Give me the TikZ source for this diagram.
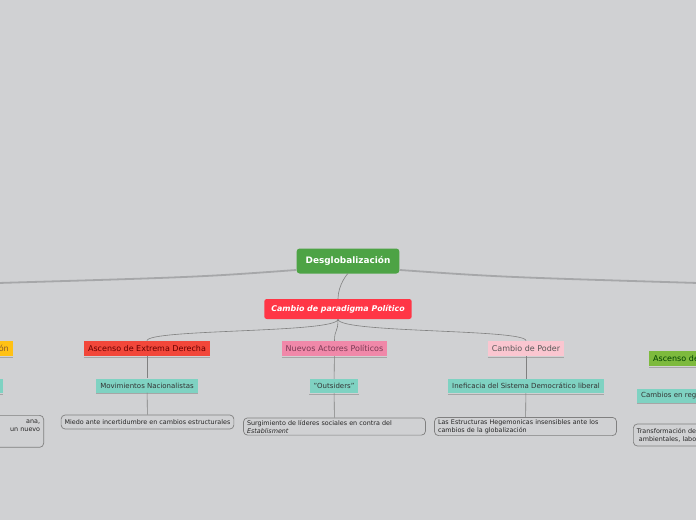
\documentclass[tikz,border=0pt]{standalone}
\usepackage{fontspec}
\setmainfont{DejaVu Sans}
\usetikzlibrary{calc}
\definecolor{fondo}{HTML}{D0D1D3}
\definecolor{verde}{HTML}{4DA345}
\definecolor{rojo}{HTML}{FF3646}
\definecolor{rojoB}{HTML}{F2473A}
\definecolor{rosa}{HTML}{F088A9}
\definecolor{rosaC}{HTML}{FAC6D0}
\definecolor{amarillo}{HTML}{FFC114}
\definecolor{verdeC}{HTML}{7DBA3D}
\definecolor{turquesa}{HTML}{7FD2C2}
\definecolor{linea}{HTML}{A6A7A9}
\definecolor{txtrosa}{HTML}{7B3A54}

\begin{document}
\begin{tikzpicture}[x=1pt,y=-1pt,
  raiz/.style={fill=verde,text=white,rounded corners=3pt,minimum height=25pt,inner xsep=9pt,
    font=\fontsize{8.9}{10}\selectfont\bfseries},
  central/.style={fill=rojo,text=white,rounded corners=2.5pt,minimum height=20pt,inner xsep=7pt,
    font=\fontsize{7.9}{9}\selectfont\bfseries\itshape},
  rama/.style={minimum height=15pt,inner xsep=4pt,inner ysep=1pt,font=\fontsize{8}{9}\selectfont},
  idea/.style={fill=turquesa,text=black!80,minimum height=14pt,inner xsep=4pt,inner ysep=1pt,
    font=\fontsize{7}{8}\selectfont},
  nota/.style={draw=black!50,line width=0.7pt,fill=fondo,rounded corners=4pt,minimum height=14pt,
    inner xsep=3.5pt,inner ysep=2pt,font=\fontsize{6.4}{8}\selectfont,text=black!85},
  conn/.style={draw=black!50,line width=0.6pt},
  grueso/.style={draw=linea,line width=1.8pt},
  bajo/.style={draw=black!35,line width=0.8pt}]
  \useasboundingbox (0,0) rectangle (696,520);
  \fill[fondo] (0,0) rectangle (696,520);
  \clip (0,0) rectangle (696,520);

  % nodo raiz y ramas laterales
  \coordinate (izq) at (-2,283);
  \coordinate (der) at (698,283);
  \draw[grueso] (296,270) .. controls (200,277) .. (izq);
  \draw[grueso] (400,270) .. controls (500,277) .. (der);
  \node[raiz] (root) at (348,261) {Desglobalización};
  \node[central] (cp) at (338,309) {Cambio de paradigma Político};
  \draw[conn] (root.south) .. controls +(0,-1) and +(0,-14) .. (cp.north);

  % segundo nivel
  \node[rama,fill=rojoB,text=red!40!black] (asc) at (147,348.5) {Ascenso de Extrema Derecha};
  \node[rama,fill=rosa,text=txtrosa] (nue) at (334.5,348.5) {Nuevos Actores Políticos};
  \node[rama,fill=rosaC,text=black!65] (pod) at (526,348.5) {Cambio de Poder};
  \node[rama,fill=amarillo,text=brown!70!black,anchor=east] (ama) at (13,348.5) {ón};
  \node[rama,fill=verdeC,text=green!25!black,anchor=west,text width=60pt,align=left] (ver) at (649,358.5) {Ascenso de};
  \foreach \n in {asc,nue,pod,ama,ver}
    \draw[bajo] ($(\n.south west)+(0,1)$) -- ($(\n.south east)+(0,1)$);
  \draw[conn] (cp.south) .. controls +(0,14) and +(0,-12) .. (asc.north);
  \draw[conn] (cp.south) .. controls +(0,14) and +(0,-12) .. (nue.north);
  \draw[conn] (cp.south) .. controls +(0,14) and +(0,-12) .. (pod.north);

  % tercer nivel
  \node[idea] (mov) at (147,385.5) {Movimientos Nacionalistas};
  \node[idea] (out) at (334,386) {"Outsiders"};
  \node[idea] (inef) at (526,386) {Ineficacia del Sistema Democrático liberal};
  \node[idea,anchor=east,minimum width=20pt] (idl) at (3,386) {};
  \node[idea,anchor=west,text width=75pt,align=left] (cam) at (637,395.5) {Cambios en regla};
  \foreach \n in {mov,out,inef,idl,cam}
    \draw[bajo] ($(\n.south west)+(0,1)$) -- ($(\n.south east)+(0,1)$);
  \draw[conn] (asc) -- (mov);
  \draw[conn] (nue) -- (out);
  \draw[conn] (pod) -- (inef);

  % cuarto nivel
  \node[nota] (mie) at (147.5,422) {Miedo ante incertidumbre en cambios estructurales};
  \node[nota,align=left,text width=175pt] (sur) at (334.5,426.5)
    {Surgimiento de líderes sociales en contra del\\\textit{Establisment}};
  \node[nota,align=left,text width=175pt] (las) at (525.5,426.5)
    {Las Estructuras Hegemonicas insensibles ante los\\cambios de la globalización};
  \node[nota,align=right,anchor=north east,text width=60pt,inner ysep=5pt] (nl) at (44,415)
    {ana,\hspace*{26pt}\\un nuevo\hspace*{15pt}\\\strut};
  \node[nota,align=left,anchor=west,minimum height=22pt,text width=85pt] (nr) at (633,435)
    {Transformación de\\\hspace*{2pt}ambientales, labo};
  \draw[conn] (mov) -- (mie);
  \draw[conn] (out) -- (sur);
  \draw[conn] (inef) -- (las);
\end{tikzpicture}
\end{document}
